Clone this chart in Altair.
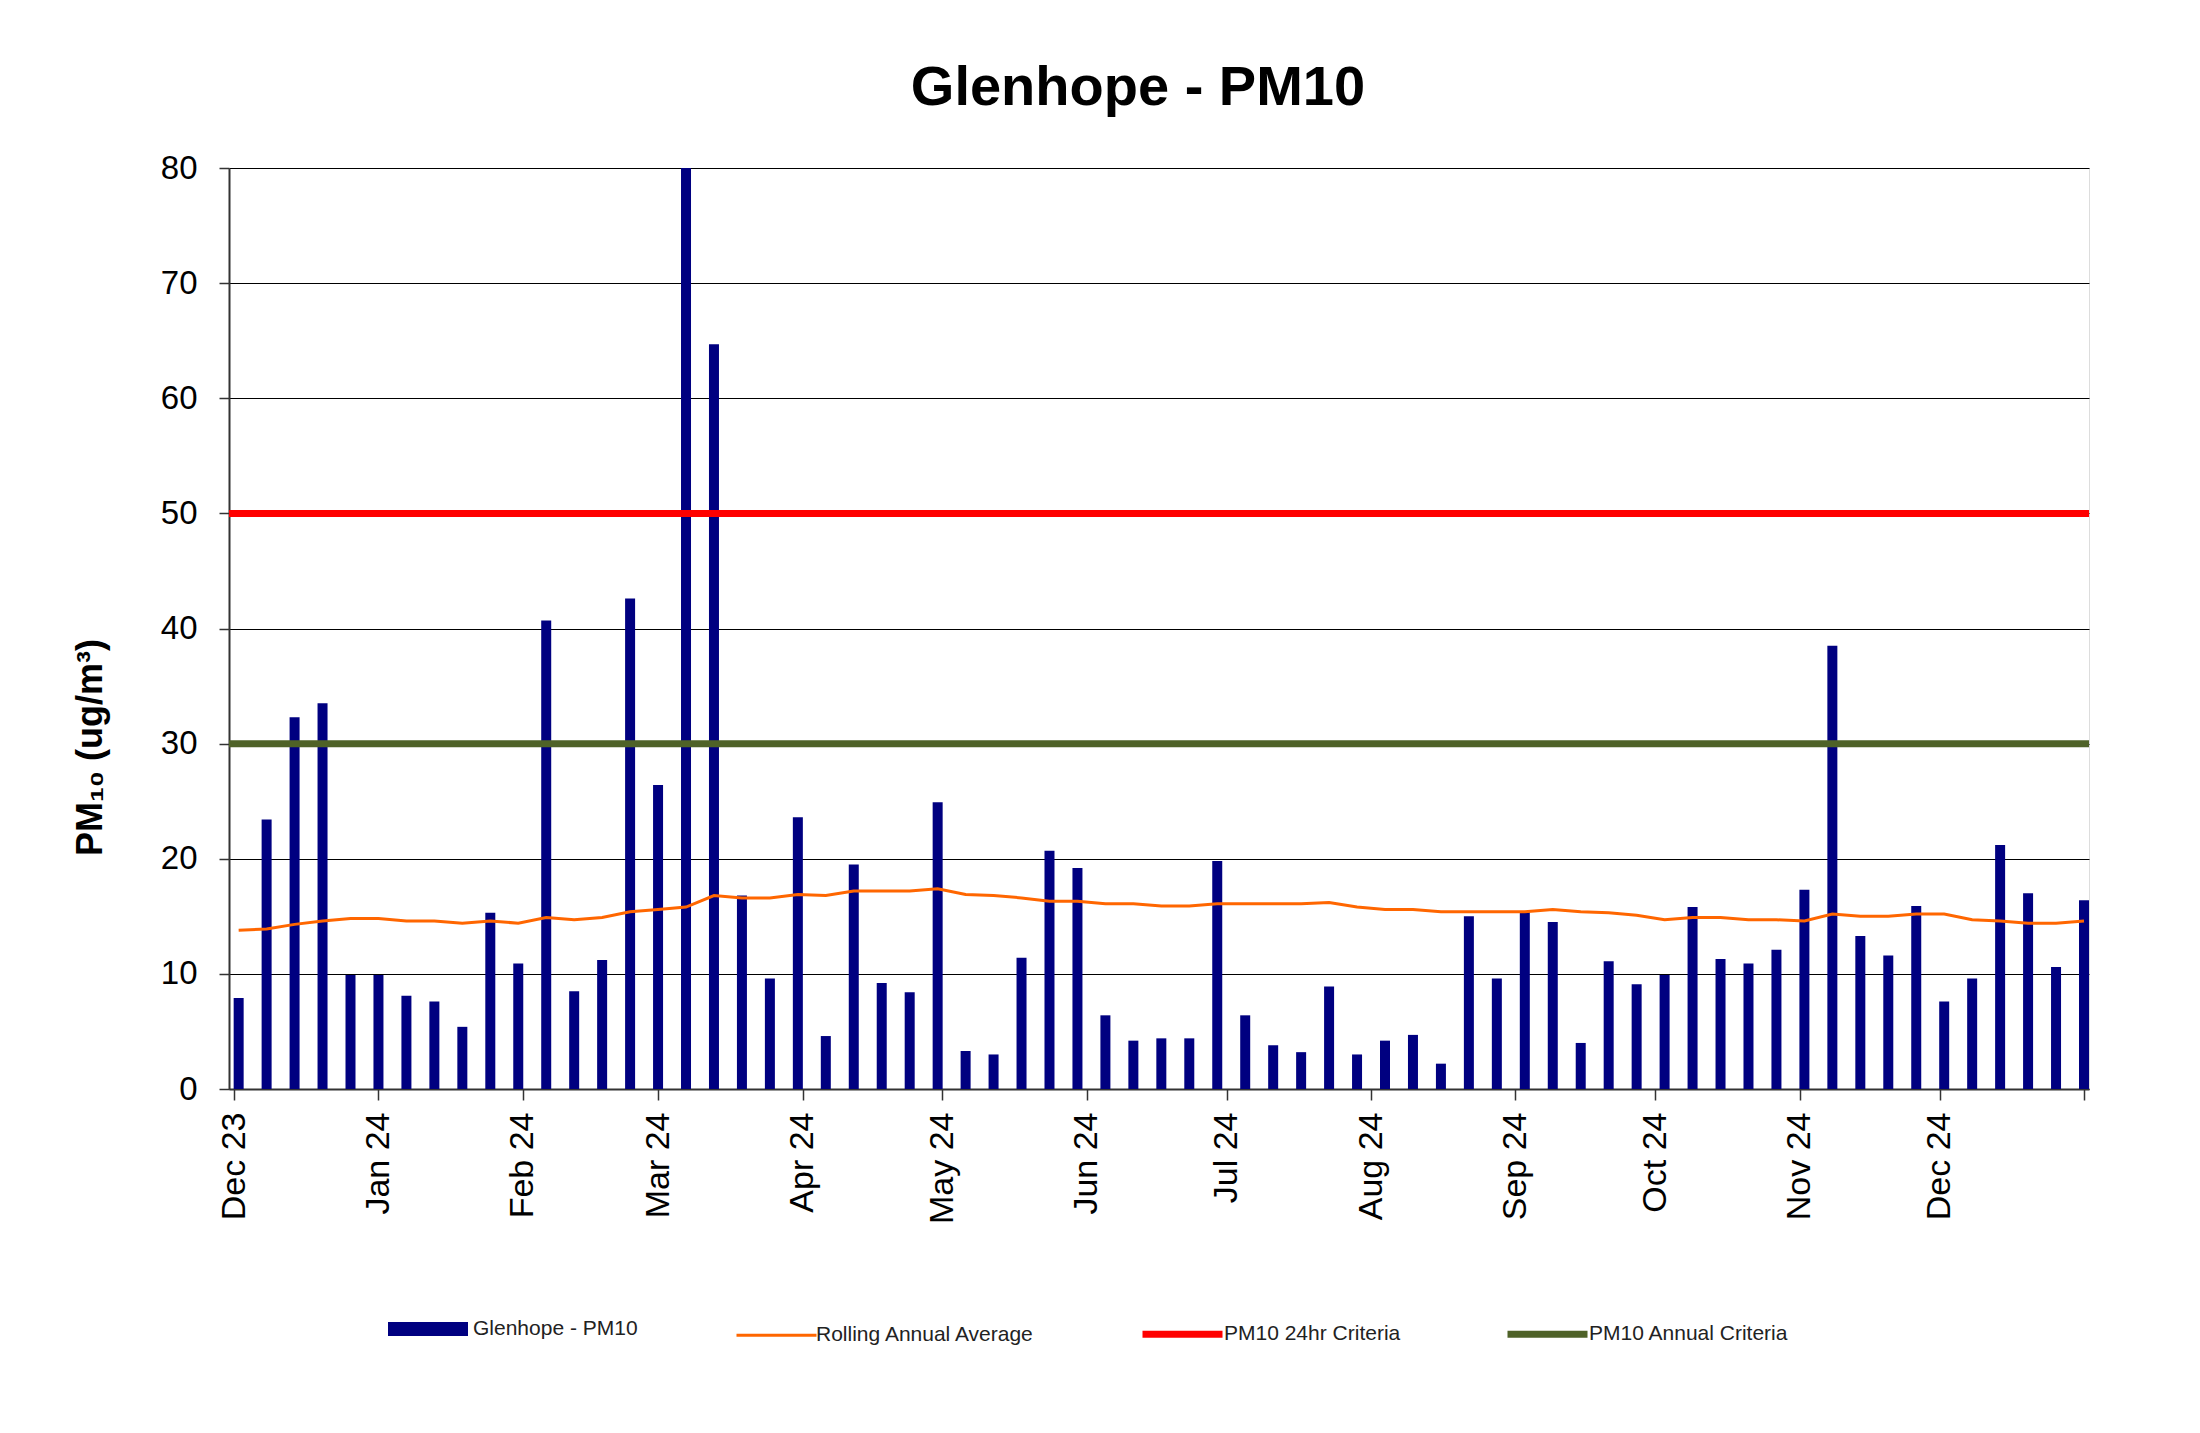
import altair as alt
import pandas as pd

# ---------------- data ----------------
dates = [
    "2023-12-02", "2023-12-08", "2023-12-14", "2023-12-20", "2023-12-26",
    "2024-01-01", "2024-01-07", "2024-01-13", "2024-01-19", "2024-01-25", "2024-01-31",
    "2024-02-06", "2024-02-12", "2024-02-18", "2024-02-24",
    "2024-03-01", "2024-03-07", "2024-03-13", "2024-03-19", "2024-03-25", "2024-03-31",
    "2024-04-06", "2024-04-12", "2024-04-18", "2024-04-24", "2024-04-30",
    "2024-05-06", "2024-05-12", "2024-05-18", "2024-05-24", "2024-05-30",
    "2024-06-05", "2024-06-11", "2024-06-17", "2024-06-23", "2024-06-29",
    "2024-07-05", "2024-07-11", "2024-07-17", "2024-07-23", "2024-07-29",
    "2024-08-04", "2024-08-10", "2024-08-16", "2024-08-22", "2024-08-28",
    "2024-09-03", "2024-09-09", "2024-09-15", "2024-09-21", "2024-09-27",
    "2024-10-03", "2024-10-09", "2024-10-15", "2024-10-21", "2024-10-27",
    "2024-11-02", "2024-11-08", "2024-11-14", "2024-11-20", "2024-11-26",
    "2024-12-02", "2024-12-08", "2024-12-14", "2024-12-20", "2024-12-26",
    "2025-01-01",
]

pm10 = [
    7.9, 23.4, 32.3, 33.5, 9.9, 9.9, 8.1, 7.6, 5.4, 15.3,
    10.9, 40.7, 8.5, 11.2, 42.6, 26.4, 80.0, 64.7, 16.8, 9.6,
    23.6, 4.6, 19.5, 9.2, 8.4, 24.9, 3.3, 3.0, 11.4, 20.7,
    19.2, 6.4, 4.2, 4.4, 4.4, 19.8, 6.4, 3.8, 3.2, 8.9,
    3.0, 4.2, 4.7, 2.2, 15.0, 9.6, 15.4, 14.5, 4.0, 11.1,
    9.1, 9.9, 15.8, 11.3, 10.9, 12.1, 17.3, 38.5, 13.3, 11.6,
    15.9, 7.6, 9.6, 21.2, 17.0, 10.6, 16.4,
]

rolling_avg = [
    13.8, 13.9, 14.3, 14.6, 14.8, 14.8, 14.6, 14.6, 14.4, 14.6,
    14.4, 14.9, 14.7, 14.9, 15.4, 15.6, 15.8, 16.8, 16.6, 16.6,
    16.9, 16.8, 17.2, 17.2, 17.2, 17.4, 16.9, 16.8, 16.6, 16.3,
    16.3, 16.1, 16.1, 15.9, 15.9, 16.1, 16.1, 16.1, 16.1, 16.2,
    15.8, 15.6, 15.6, 15.4, 15.4, 15.4, 15.4, 15.6, 15.4, 15.3,
    15.1, 14.7, 14.9, 14.9, 14.7, 14.7, 14.6, 15.2, 15.0, 15.0,
    15.2, 15.2, 14.7, 14.6, 14.4, 14.4, 14.6,
]

series_names = ["Glenhope - PM10", "Rolling Annual Average",
                "PM10 24hr Criteria", "PM10 Annual Criteria"]
series_colors = ["#000080", "#FF6600", "#FF0000", "#4F6228"]
series_widths = [14, 3, 7, 7]
criteria_24hr = [50]
criteria_annual = [30]
y_ticks = [0, 10, 20, 30, 40, 50, 60, 70, 80]
month_starts = [(2023, 12)] + [(2024, m) for m in range(1, 13)] + [(2025, 1)]

chart_title = "Glenhope - PM10"
y_title = "PM\u2081\u2080 (ug/m\u00b3)"

# ---------------- tables ----------------
df = pd.DataFrame({
    "date": [d + "T00:00:00" for d in dates],
    "pm10": pm10,
    "rolling": rolling_avg,
})
df_24 = pd.DataFrame({"y": criteria_24hr, "series": [series_names[2]]})
df_an = pd.DataFrame({"y": criteria_annual, "series": [series_names[3]]})

FONT = "Liberation Sans"

x_scale = alt.Scale(domain=[alt.DateTime(year=2023, month=12, date=1),
                            alt.DateTime(year=2025, month=1, date=1)])
y_scale = alt.Scale(domain=[0, 80], nice=False)

x_axis = alt.Axis(
    values=[alt.DateTime(year=y, month=m, date=1) for (y, m) in month_starts],
    labelExpr="year(datum.value) >= 2025 ? '' : timeFormat(datum.value, '%b %y')",
    labelAngle=270, labelAlign="right", labelBaseline="middle",
    labelFont=FONT, labelFontSize=34, labelColor="#000000", labelPadding=12,
    tickSize=11, tickColor="#333333", tickWidth=1.5,
    domainColor="#333333", domainWidth=2, grid=False, title=None,
    labelOverlap=False, labelFlush=False,
)
y_axis = alt.Axis(
    values=y_ticks, labelFont=FONT, labelFontSize=33, labelColor="#000000",
    labelPadding=22, tickSize=10, tickColor="#333333", tickWidth=1.5,
    domainColor="#333333", domainWidth=2,
    grid=True, gridColor="#000000", gridWidth=1, gridOpacity=1,
    title=y_title, titleFont=FONT, titleFontSize=36, titleFontWeight="bold",
    titleColor="#000000", titleAngle=270, titleAlign="center",
    titleBaseline="middle", titleX=-139, titleY=579,
)

legend = alt.Legend(
    orient="none", legendX=152, legendY=1114, direction="horizontal",
    title=None, symbolType="stroke", symbolSize=6400,
    labelFont=FONT, labelFontSize=21, labelColor="#222222",
    labelOffset={"expr": "-2"},
    columnPadding=92, labelLimit=0, symbolOpacity=1,
)
color = alt.Color("series:N",
                  scale=alt.Scale(domain=series_names, range=series_colors),
                  legend=legend)
swidth = alt.StrokeWidth("series:N",
                         scale=alt.Scale(type="ordinal", domain=series_names,
                                         range=series_widths),
                         legend=legend)

base = alt.Chart(df)

bars = base.mark_bar(size=10).encode(
    x=alt.X("date:T", scale=x_scale, axis=x_axis),
    y=alt.Y("pm10:Q", scale=y_scale, axis=y_axis),
    color=color,
    strokeWidth=swidth,
).transform_calculate(series="'Glenhope - PM10'")

line = base.mark_line().encode(
    x=alt.X("date:T", scale=x_scale),
    y=alt.Y("rolling:Q", scale=y_scale),
    color=color,
    strokeWidth=swidth,
).transform_calculate(series="'Rolling Annual Average'")

rule24 = alt.Chart(df_24).mark_rule().encode(
    y=alt.Y("y:Q", scale=y_scale), color=color, strokeWidth=swidth)
rule_an = alt.Chart(df_an).mark_rule().encode(
    y=alt.Y("y:Q", scale=y_scale), color=color, strokeWidth=swidth)

chart = alt.layer(bars, line, rule24, rule_an).properties(
    width=1860, height=921,
    title=alt.TitleParams(chart_title, font=FONT, fontSize=56, fontWeight="bold",
                          color="#000000", anchor="middle", frame="group",
                          baseline="alphabetic", offset=63, dx=-21, dy=72),
    autosize=alt.AutoSizeParams(type="none"),
    padding={"left": 221, "top": 160, "right": 103, "bottom": 336},
).configure_view(
    stroke="#8a8a8a", strokeWidth=3
).configure(background="#ffffff")

chart.save("out.html", embed_options={"renderer": "svg", "actions": False})
